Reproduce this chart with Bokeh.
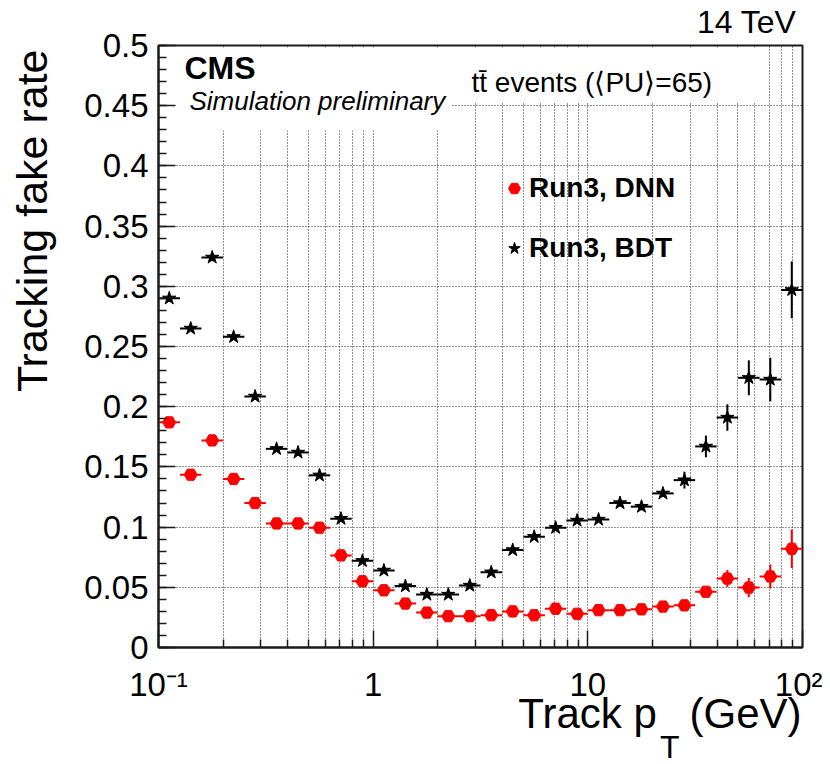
import numpy as np
from bokeh.plotting import figure
from bokeh.models import (Range1d, FixedTicker, Label, Legend, LegendItem,
                          BoxAnnotation, ColumnDataSource, Title, LinearAxis)
from bokeh.embed import file_html
from bokeh.resources import INLINE

# ---------------- data ----------------
# 30 log-spaced bins, 10 per decade, from 0.1 to 100 GeV
bin_edges = list(np.logspace(-1, 2, 31))

dnn_rate = [0.187, 0.1435, 0.172, 0.140, 0.120, 0.103, 0.103, 0.0995, 0.0765, 0.055,
            0.0475, 0.0365, 0.029, 0.026, 0.026, 0.0268, 0.030, 0.0268, 0.0322, 0.028,
            0.031, 0.031, 0.0317, 0.034, 0.035, 0.0463, 0.0573, 0.0498, 0.059, 0.082]
dnn_err = [0.003, 0.002, 0.002, 0.002, 0.002, 0.002, 0.002, 0.002, 0.002, 0.002,
           0.002, 0.002, 0.002, 0.002, 0.002, 0.002, 0.002, 0.002, 0.002, 0.002,
           0.002, 0.002, 0.002, 0.003, 0.003, 0.004, 0.007, 0.008, 0.010, 0.016]

bdt_rate = [0.290, 0.265, 0.324, 0.258, 0.2085, 0.165, 0.162, 0.143, 0.107, 0.072,
            0.064, 0.051, 0.044, 0.044, 0.0515, 0.0625, 0.081, 0.092, 0.0995, 0.1055,
            0.1063, 0.120, 0.117, 0.128, 0.139, 0.167, 0.191, 0.224, 0.2226, 0.297]
bdt_err = [0.003, 0.002, 0.003, 0.002, 0.002, 0.002, 0.002, 0.002, 0.002, 0.002,
           0.002, 0.002, 0.002, 0.002, 0.002, 0.002, 0.002, 0.002, 0.002, 0.002,
           0.002, 0.003, 0.003, 0.003, 0.007, 0.009, 0.011, 0.0145, 0.018, 0.0235]

xtick_values = [0.1, 1, 10, 100]
xtick_labels = ["10\u207b\u00b9", "1", "10", "10\u00b2"]
xminor_values = [0.2, 0.3, 0.4, 0.5, 0.6, 0.7, 0.8, 0.9,
                 2, 3, 4, 5, 6, 7, 8, 9,
                 20, 30, 40, 50, 60, 70, 80, 90]
ytick_values = [0, 0.05, 0.1, 0.15, 0.2, 0.25, 0.3, 0.35, 0.4, 0.45, 0.5]
ytick_labels = ["0", "0.05", "0.1", "0.15", "0.2", "0.25", "0.3", "0.35", "0.4", "0.45", "0.5"]
yminor_values = [round(0.01 * i, 2) for i in range(51)]

FONT = "Liberation Sans"

# ---------------- geometry (page px) ----------------
OFF = 1
FL, FR, FT, FB = 159, 803, 46, 648
def dx(px):
    return 10 ** (-1 + (px - FL) / ((FR - FL) / 3.0))
def dy(py):
    return (FB - py) / ((FB - FT) / 0.5)

lo = np.array(bin_edges[:-1])
hi = np.array(bin_edges[1:])
xc = np.sqrt(lo * hi)

def make_src(rate, err):
    r = np.array(rate); e = np.array(err)
    return ColumnDataSource(dict(x=xc, lo=lo, hi=hi, y=r, ylo=r - e, yhi=r + e))

src_dnn = make_src(dnn_rate, dnn_err)
src_bdt = make_src(bdt_rate, bdt_err)

p = figure(x_axis_type="log", x_range=Range1d(0.1, 100), y_range=Range1d(0, 0.5),
           frame_width=FR - FL, frame_height=FB - FT,
           min_border_left=FL - OFF, min_border_right=20,
           min_border_top=FT - OFF, min_border_bottom=100,
           output_backend="svg", toolbar_location=None)
p.background_fill_color = "white"
p.border_fill_color = "white"
p.outline_line_color = "#1a1a1a"
p.outline_line_width = 2

# axes
for ax in (p.xaxis[0], p.yaxis[0]):
    ax.axis_line_color = "#1a1a1a"
    ax.axis_line_width = 2
    ax.major_tick_in = 17
    ax.major_tick_out = 0
    ax.minor_tick_in = 8
    ax.minor_tick_out = 0
    ax.major_tick_line_color = "#1a1a1a"
    ax.minor_tick_line_color = "#1a1a1a"
    ax.major_tick_line_width = 1.5
    ax.minor_tick_line_width = 1.5
    ax.major_label_text_font = FONT
    ax.major_label_text_font_size = "33px"
    ax.major_label_text_color = "black"

p.xaxis.ticker = FixedTicker(ticks=xtick_values, minor_ticks=xminor_values)
p.yaxis.ticker = FixedTicker(ticks=ytick_values, minor_ticks=yminor_values)
p.xaxis.major_label_overrides = dict(zip(xtick_values, xtick_labels))
p.yaxis.major_label_overrides = dict(zip(ytick_values, ytick_labels))
p.xaxis.major_label_standoff = 18
p.yaxis.major_label_standoff = 10

def title(text, size, **kw):
    return Title(text=text, text_font=FONT, text_font_size=size,
                 text_font_style="normal", text_color="black", **kw)

def spacer_axis(px, tick):
    # an invisible axis (one hidden tick, empty label): only reserves room
    return LinearAxis(ticker=FixedTicker(ticks=[tick], minor_ticks=[]),
                      major_tick_out=px, major_tick_in=0,
                      minor_tick_out=0, minor_tick_in=0, axis_line_alpha=0,
                      major_tick_line_alpha=0, minor_tick_line_alpha=0,
                      major_label_standoff=0, major_label_overrides={tick: ""},
                      major_label_text_alpha=0)

# y-axis title, right(top)-aligned
p.add_layout(spacer_axis(24, 0.25), "left")
p.add_layout(title("Tracking fake rate", "43px", align="right", offset=4,
                   vertical_align="top", standoff=0), "left")

# x-axis title "Track p_T (GeV)", right aligned, with the subscript T below the line
p.add_layout(title("Track p\u2002 (GeV)", "42px", align="right", offset=1,
                   vertical_align="top", standoff=-32), "below")
p.add_layout(spacer_axis(3, 1), "below")
p.add_layout(title("T", "32px", align="right", offset=123,
                   vertical_align="bottom", standoff=2), "below")

# "14 TeV" as the figure title, top right
p.title.text = "14 TeV"
p.title.align = "right"
p.title.offset = 6
p.title.vertical_align = "top"
p.title.standoff = 7
p.title.text_font = FONT
p.title.text_font_size = "32px"
p.title.text_font_style = "normal"
p.title.text_color = "black"

# grids (dotted, also at minor x ticks)
p.xgrid.grid_line_color = "#222222"
p.xgrid.grid_line_dash = "1 2"
p.xgrid.grid_line_width = 1
p.xgrid.minor_grid_line_color = "#222222"
p.xgrid.minor_grid_line_dash = "1 2"
p.xgrid.minor_grid_line_width = 1
p.ygrid.grid_line_color = "#222222"
p.ygrid.grid_line_dash = "1 2"
p.ygrid.grid_line_width = 1

# white boxes behind the header texts (hide grid there)
p.add_layout(BoxAnnotation(left=dx(161), right=dx(452), top=dy(48), bottom=dy(131),
                           fill_color="white", fill_alpha=1, line_alpha=0, level="underlay"))
p.add_layout(BoxAnnotation(left=dx(452), right=dx(762), top=dy(48), bottom=dy(103),
                           fill_color="white", fill_alpha=1, line_alpha=0, level="underlay"))

# error bars + markers
def draw(src, color, marker, size):
    p.segment(x0="lo", x1="hi", y0="y", y1="y", source=src, line_color=color, line_width=2)
    p.segment(x0="x", x1="x", y0="ylo", y1="yhi", source=src, line_color=color, line_width=2)
    return p.scatter(x="x", y="y", source=src, marker=marker, size=size,
                     fill_color=color, line_color=color)

r_bdt = draw(src_bdt, "black", "star", 14)
r_dnn = draw(src_dnn, "#ff0000", "hex", 13)

legend = Legend(items=[LegendItem(label="Run3, DNN", renderers=[r_dnn]),
                       LegendItem(label="Run3, BDT", renderers=[r_bdt])],
                location=(500 - FL, FB - 265))
legend.label_text_font = FONT
legend.label_text_font_style = "bold"
legend.label_text_font_size = "28px"
legend.label_text_color = "black"
legend.glyph_width = 30
legend.glyph_height = 30
legend.label_height = 30
legend.label_standoff = 0
legend.spacing = 28
legend.padding = 0
legend.margin = 0
legend.border_line_alpha = 0
legend.background_fill_alpha = 0
p.add_layout(legend)

# texts inside the frame
def lab(text, px, py, size, align="left", style="normal"):
    p.add_layout(Label(x=dx(px), y=dy(py), text=text, text_font=FONT,
                       text_font_size=size, text_font_style=style, text_align=align,
                       text_baseline="alphabetic", text_color="black"))

lab("CMS", 185, 68, "32px", style="bold")
lab("Simulation preliminary", 190, 101, "26px", style="italic")
lab("t\u0074\u0304 events (\u27e8PU\u27e9=65)", 472, 83, "28px")

open("out.html", "w").write(file_html(p, INLINE))
